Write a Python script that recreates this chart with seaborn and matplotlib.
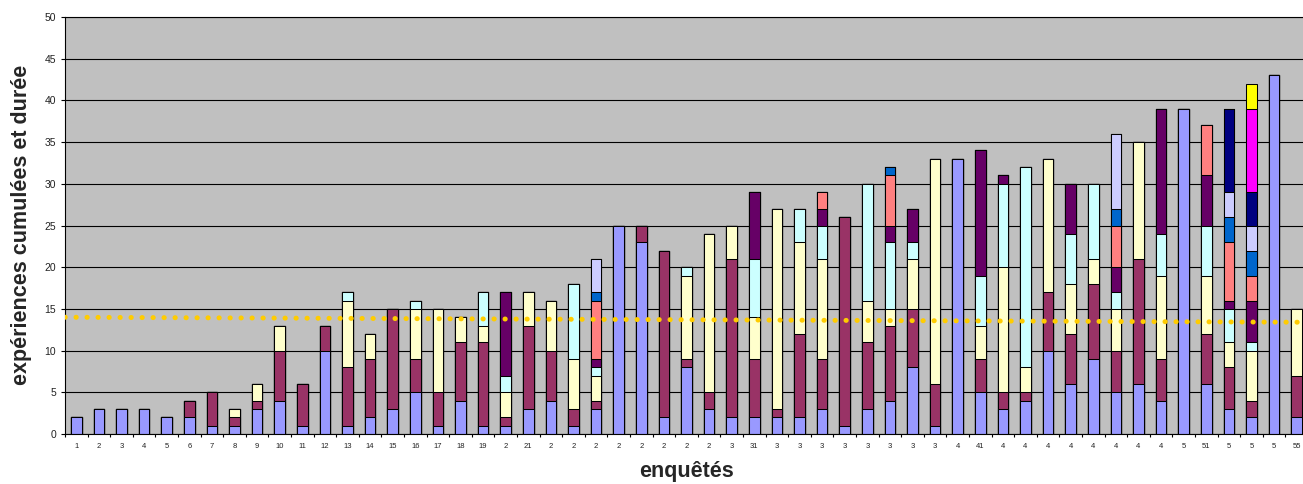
import numpy as np
import pandas as pd
import matplotlib
matplotlib.use('Agg')
import matplotlib.pyplot as plt
import seaborn as sns

# Survey labels as printed under the bars (Excel truncated most of them)
labels = ['1', '2', '3', '4', '5', '6', '7', '8', '9', '10', '11',
          '12', '13', '14', '15', '16', '17', '18', '19', '2', '21',
          '2', '2', '2', '2', '2', '2', '2', '2', '3', '31',
          '3', '3', '3', '3', '3', '3', '3', '3', '4', '41',
          '4', '4', '4', '4', '4', '4', '4', '4', '5', '51',
          '5', '5', '5', '55']

# Stacked segments, one list per series (bottom to top), 55 surveys each
s1 = [2, 3, 3, 3, 2, 2, 1, 1, 3, 4, 1,
      10, 1, 2, 3, 5, 1, 4, 1, 1, 3,
      4, 1, 3, 25, 23, 2, 8, 3, 2, 2,
      2, 2, 3, 1, 3, 4, 8, 1, 33, 5,
      3, 4, 10, 6, 9, 5, 6, 4, 39, 6,
      3, 2, 43, 2]
s2 = [0, 0, 0, 0, 0, 2, 4, 1, 1, 6, 5,
      3, 7, 7, 12, 4, 4, 7, 10, 1, 10,
      6, 2, 1, 0, 2, 20, 1, 2, 19, 7,
      1, 10, 6, 25, 8, 9, 7, 5, 0, 4,
      2, 1, 7, 6, 9, 5, 15, 5, 0, 6,
      5, 2, 0, 5]
s3 = [0, 0, 0, 0, 0, 0, 0, 1, 2, 3, 0,
      0, 8, 3, 0, 6, 10, 3, 2, 3, 4,
      6, 6, 3, 0, 0, 0, 10, 19, 4, 5,
      24, 11, 12, 0, 5, 2, 6, 27, 0, 4,
      15, 3, 16, 6, 3, 5, 14, 10, 0, 7,
      3, 6, 0, 8]
s4 = [0, 0, 0, 0, 0, 0, 0, 0, 0, 0, 0,
      0, 1, 0, 0, 1, 0, 0, 4, 2, 0,
      0, 9, 1, 0, 0, 0, 1, 0, 0, 7,
      0, 4, 4, 0, 14, 8, 2, 0, 0, 6,
      10, 24, 0, 6, 9, 2, 0, 5, 0, 6,
      4, 1, 0, 0]
s5 = [0, 0, 0, 0, 0, 0, 0, 0, 0, 0, 0,
      0, 0, 0, 0, 0, 0, 0, 0, 10, 0,
      0, 0, 1, 0, 0, 0, 0, 0, 0, 8,
      0, 0, 2, 0, 0, 2, 4, 0, 0, 15,
      1, 0, 0, 6, 0, 3, 0, 15, 0, 6,
      1, 5, 0, 0]
s6 = [0, 0, 0, 0, 0, 0, 0, 0, 0, 0, 0,
      0, 0, 0, 0, 0, 0, 0, 0, 0, 0,
      0, 0, 7, 0, 0, 0, 0, 0, 0, 0,
      0, 0, 2, 0, 0, 6, 0, 0, 0, 0,
      0, 0, 0, 0, 0, 5, 0, 0, 0, 6,
      7, 3, 0, 0]
s7 = [0, 0, 0, 0, 0, 0, 0, 0, 0, 0, 0,
      0, 0, 0, 0, 0, 0, 0, 0, 0, 0,
      0, 0, 1, 0, 0, 0, 0, 0, 0, 0,
      0, 0, 0, 0, 0, 1, 0, 0, 0, 0,
      0, 0, 0, 0, 0, 2, 0, 0, 0, 0,
      3, 3, 0, 0]
s8 = [0, 0, 0, 0, 0, 0, 0, 0, 0, 0, 0,
      0, 0, 0, 0, 0, 0, 0, 0, 0, 0,
      0, 0, 4, 0, 0, 0, 0, 0, 0, 0,
      0, 0, 0, 0, 0, 0, 0, 0, 0, 0,
      0, 0, 0, 0, 0, 9, 0, 0, 0, 0,
      3, 3, 0, 0]
s9 = [0] * 51 + [10, 4, 0, 0]
s10 = [0] * 52 + [10, 0, 0]
s11 = [0] * 52 + [3, 0, 0]

series = [s1, s2, s3, s4, s5, s6, s7, s8, s9, s10, s11]
colors = ['#9999FF', '#993366', '#FFFFCC', '#CCFFFF', '#660066', '#FF8080',
          '#0066CC', '#CCCCFF', '#000080', '#FF00FF', '#FFFF00']

# dotted trend line, value at the first and last survey
trend = [14.0, 13.4]

df = pd.DataFrame({f's{i + 1}': s for i, s in enumerate(series)})
cum = df.cumsum(axis=1)
pos = np.arange(len(labels))

sns.set_style('ticks')
plt.rcParams['font.family'] = ['Liberation Sans', 'DejaVu Sans']

fig = plt.figure(figsize=(13.03, 4.84), dpi=100)
ax = fig.add_axes([65 / 1303, 50 / 484, 1243 / 1303, 417 / 484])
ax.set_facecolor('#C0C0C0')

# draw cumulative totals from top to bottom so each lower stack covers the rest
for i in range(len(series) - 1, -1, -1):
    sns.barplot(x=pos, y=cum.iloc[:, i].values, color=colors[i], saturation=1,
                width=0.47, edgecolor='black', linewidth=0.75, errorbar=None, ax=ax)

ax.plot([pos[0] - 0.5, pos[-1] + 0.5], trend, color='#FFCC00', linewidth=3.6,
        linestyle=(0, (0.05, 2.15)), dash_capstyle='round', zorder=5)

ax.set_xlim(-0.5, len(labels) - 0.5)
ax.set_ylim(0, 50)
ax.set_yticks(range(0, 51, 5))
ax.yaxis.grid(True, color='black', linewidth=0.8)
ax.set_axisbelow(True)

ax.set_xticks(pos)
ax.set_xticklabels(labels, fontsize=5.5, color='#222222')
ax.set_xticks(np.arange(-0.5, len(labels), 1), minor=True)
ax.tick_params(axis='x', which='major', length=0, pad=6.5)
ax.tick_params(axis='x', which='minor', length=2.5, width=0.8, color='black')
ax.tick_params(axis='y', length=3, width=0.8, color='black', labelsize=7.5,
               labelcolor='#222222', pad=3.5)

for side in ['left', 'bottom', 'top']:
    ax.spines[side].set_color('black')
    ax.spines[side].set_linewidth(0.8)
ax.spines['right'].set_visible(False)

ax.set_xlabel('')
ax.set_ylabel('')
fig.text(22 / 1303, 1 - 225 / 484, 'expériences cumulées et durée', rotation=90,
         ha='center', va='center', fontsize=15.5, fontweight='bold')
fig.text(686 / 1303, 1 - 472 / 484, 'enquêtés', ha='center', va='center',
         fontsize=15.5, fontweight='bold')

fig.savefig('out.png', dpi=100)
plt.close(fig)
